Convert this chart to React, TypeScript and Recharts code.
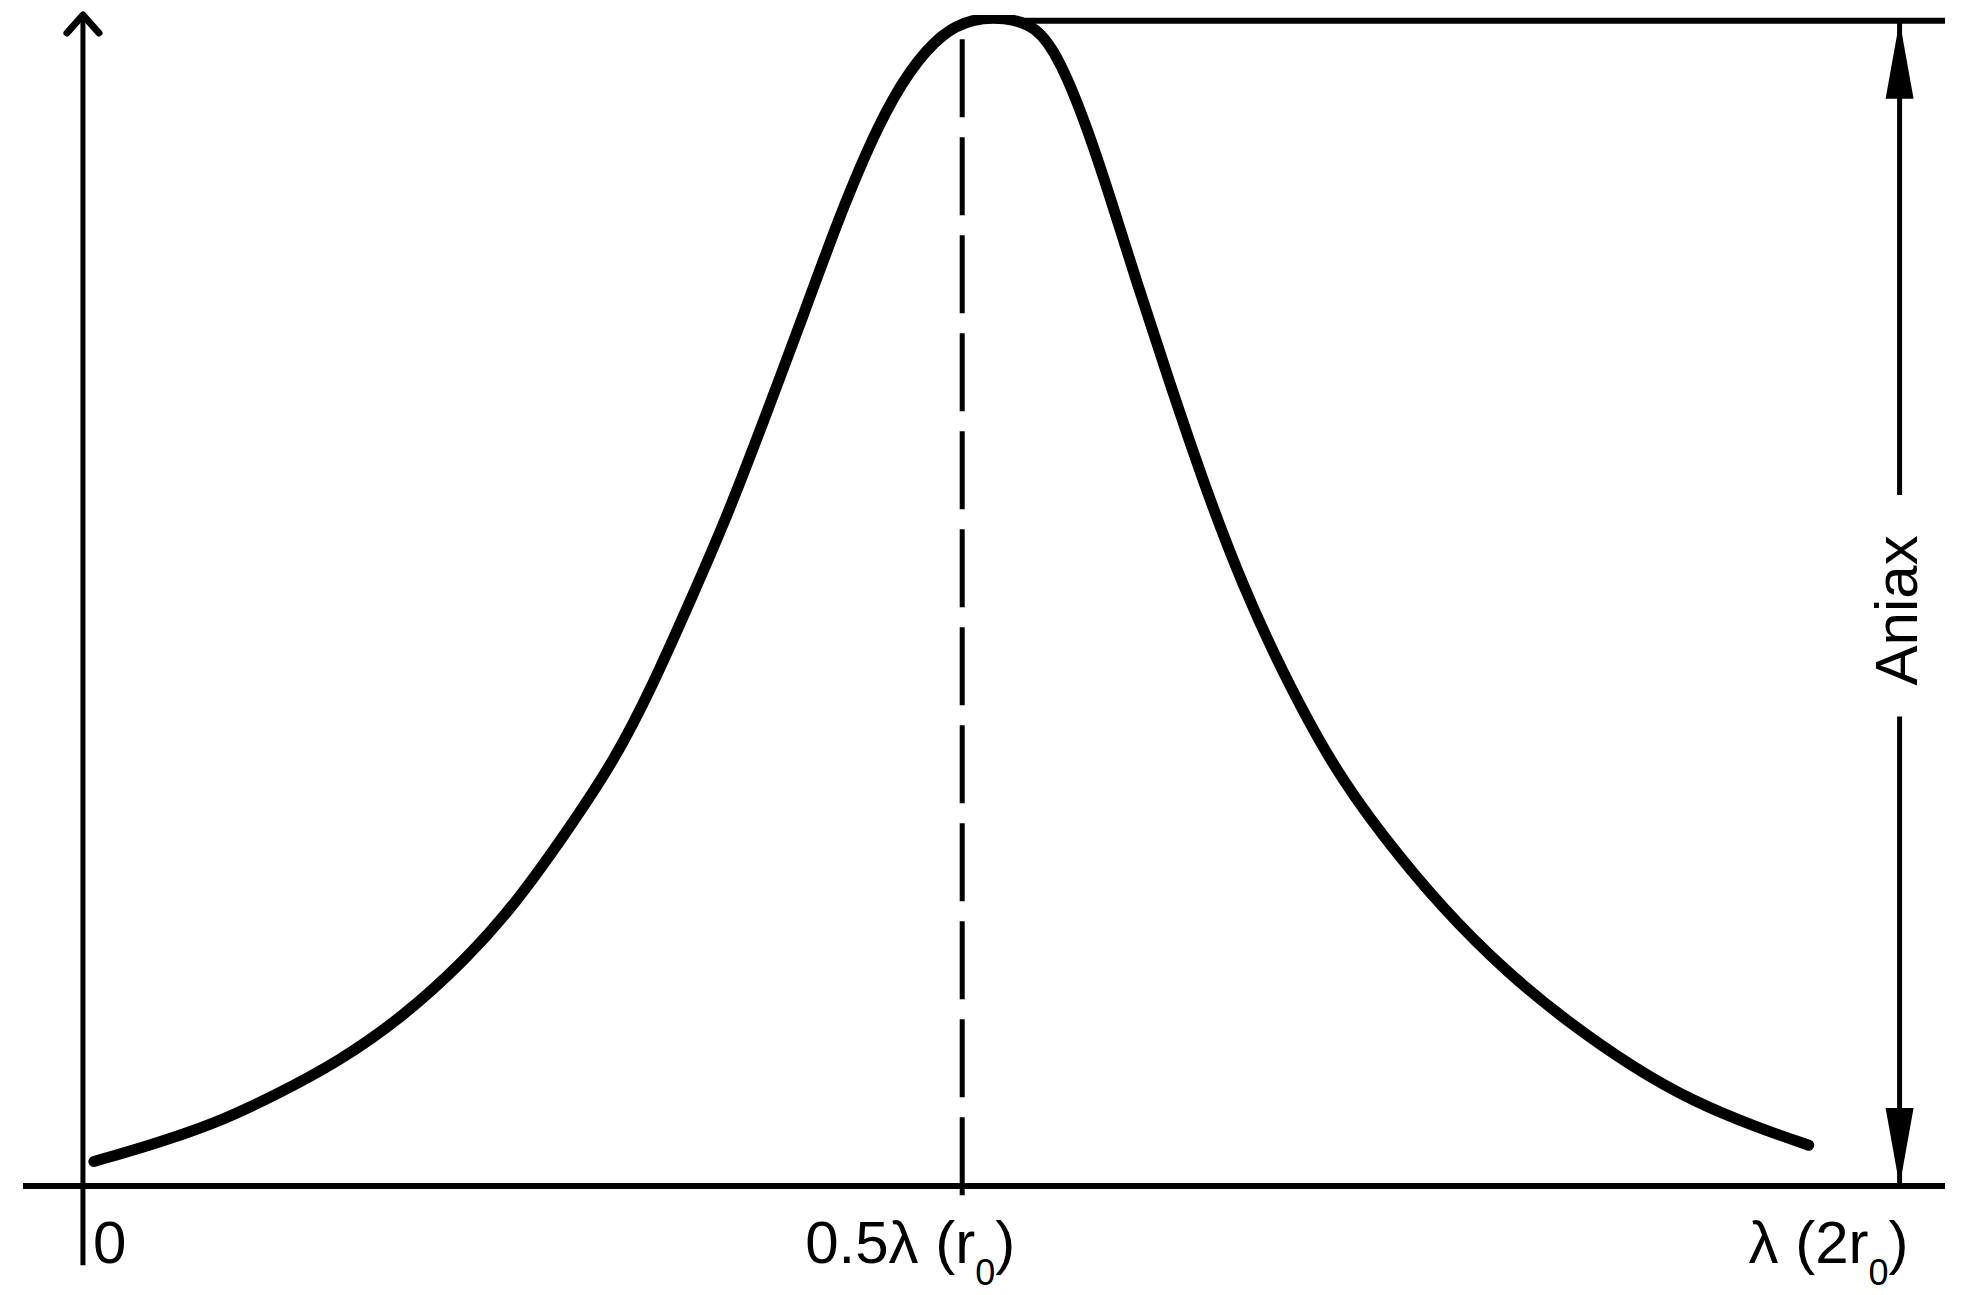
import React from 'react'
import { LineChart, Line, XAxis, YAxis, ReferenceLine, ReferenceDot } from 'recharts'

// position along x as a fraction of λ
const xFrac = [
  0.006, 0.037, 0.072, 0.106, 0.141, 0.176, 0.21, 0.238, 0.265, 0.293, 0.314, 0.334, 0.355, 0.376,
  0.397, 0.417, 0.438, 0.455, 0.473, 0.49, 0.507, 0.525, 0.538, 0.552, 0.566, 0.58, 0.597, 0.618,
  0.639, 0.659, 0.687, 0.715, 0.749, 0.784, 0.818, 0.853, 0.887, 0.922, 0.95,
]
// relative amplitude (1 = Amax)
const amplitude = [
  0.021, 0.035, 0.053, 0.078, 0.107, 0.145, 0.193, 0.242, 0.301, 0.366, 0.431, 0.501, 0.576, 0.662,
  0.749, 0.835, 0.912, 0.958, 0.99, 1.002, 1.003, 0.996, 0.966, 0.912, 0.846, 0.776, 0.695, 0.598,
  0.513, 0.445, 0.362, 0.301, 0.237, 0.183, 0.14, 0.102, 0.072, 0.05, 0.035,
]

const tickValues = [0, 0.484, 1]
const tickLabels = [['0'], ['0.5λ (r', '0', ')'], ['λ (2r', '0', ')']]
const dimLabel = 'Aniax'

const halfX = 0.484
const lambdaX = 1
const peakY = 1
const plateauStart = 0.514
const gapTop = 0.593
const gapBottom = 0.403
const labelY = 0.494
const yAxisFoot = -0.068
const xDomain: [number, number] = [-0.033, 1.025]
const yDomain: [number, number] = [0, 1.005]

const data = xFrac.map((x, i) => ({ x, y: amplitude[i] }))

const FONT = '"Liberation Sans", Arial, sans-serif'
const LABEL_DX = [10, -157, -151]

const arrowLine = (filled: boolean) => (props: any) => {
  const { x1, y1, x2, y2 } = props
  const dx = x2 - x1
  const dy = y2 - y1
  const len = Math.hypot(dx, dy) || 1
  const ux = dx / len
  const uy = dy / len
  const px = -uy
  const py = ux
  const headLen = filled ? 78 : 18
  const half = filled ? 14 : 16
  const bx = x2 - ux * headLen
  const by = y2 - uy * headLen
  const a = `${bx + px * half},${by + py * half}`
  const b = `${bx - px * half},${by - py * half}`
  return (
    <g>
      <line x1={x1} y1={y1} x2={x2} y2={y2} stroke="#000" strokeWidth={5} />
      {filled ? (
        <polygon points={`${x2},${y2} ${a} ${b}`} fill="#000" />
      ) : (
        <polyline
          points={`${a} ${x2},${y2} ${b}`}
          fill="none"
          stroke="#000"
          strokeWidth={7}
          strokeLinecap="round"
          strokeLinejoin="round"
        />
      )}
    </g>
  )
}

const renderTick = (props: any) => {
  const { x, y, index } = props
  const parts = tickLabels[index] || []
  return (
    <text x={x + LABEL_DX[index]} y={y + 77} textAnchor="start" fontFamily={FONT} fontSize={60} fill="#000">
      <tspan>{parts[0]}</tspan>
      {parts.length > 1 && (
        <>
          <tspan fontSize={36} dy={22}>{parts[1]}</tspan>
          <tspan dy={-22}>{parts[2]}</tspan>
        </>
      )}
    </text>
  )
}

const renderDimLabel = (props: any) => {
  const { cx, cy } = props
  return (
    <text
      x={cx}
      y={cy + 17}
      transform={`rotate(-90, ${cx}, ${cy})`}
      textAnchor="middle"
      fontFamily={FONT}
      fontSize={60}
      fill="#000"
    >
      {dimLabel}
    </text>
  )
}

export default function App() {
  return (
    <div style={{ position: 'absolute', left: 0, top: 0, width: 1969, height: 1295, background: '#fff' }}>
      <LineChart width={1969} height={1295} data={data} margin={{ top: 15, right: 24, left: 23, bottom: 0 }}>
        <XAxis
          type="number"
          dataKey="x"
          domain={xDomain}
          ticks={tickValues}
          interval={0}
          height={109}
          axisLine={false}
          tickLine={false}
          tickSize={0}
          tickMargin={0}
          tick={renderTick}
          allowDataOverflow
        />
        <YAxis hide type="number" domain={yDomain} width={0} allowDataOverflow />
        <ReferenceLine y={0} stroke="#000" strokeWidth={6} />
        <ReferenceLine
          segment={[{ x: 0, y: yAxisFoot }, { x: 0, y: yDomain[1] }]}
          ifOverflow="visible"
          shape={arrowLine(false)}
        />
        <ReferenceLine
          segment={[{ x: plateauStart, y: peakY }, { x: xDomain[1], y: peakY }]}
          ifOverflow="visible"
          stroke="#000"
          strokeWidth={6}
        />
        <ReferenceLine
          segment={[{ x: halfX, y: -0.008 }, { x: halfX, y: peakY }]}
          ifOverflow="visible"
          stroke="#000"
          strokeWidth={5}
          strokeDasharray="78 20"
        />
        <ReferenceLine
          segment={[{ x: lambdaX, y: gapTop }, { x: lambdaX, y: peakY }]}
          ifOverflow="visible"
          shape={arrowLine(true)}
        />
        <ReferenceLine
          segment={[{ x: lambdaX, y: gapBottom }, { x: lambdaX, y: 0 }]}
          ifOverflow="visible"
          shape={arrowLine(true)}
        />
        <ReferenceDot x={lambdaX} y={labelY} r={1} ifOverflow="visible" shape={renderDimLabel} />
        <Line
          type="basis"
          dataKey="y"
          stroke="#000"
          strokeWidth={11}
          strokeLinecap="round"
          dot={false}
          isAnimationActive={false}
        />
      </LineChart>
    </div>
  )
}
